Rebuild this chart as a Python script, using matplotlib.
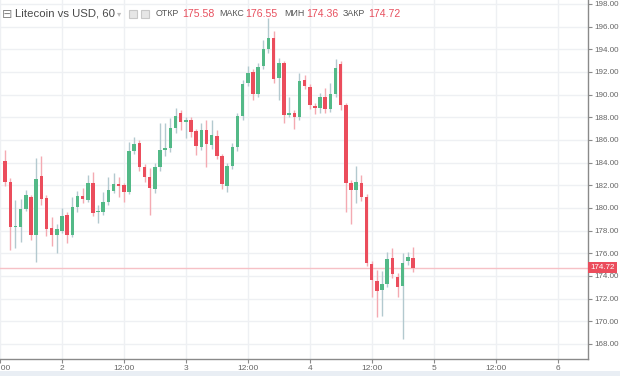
import numpy as np
import matplotlib
matplotlib.use("Agg")
import matplotlib.pyplot as plt
from matplotlib.patches import Rectangle
import matplotlib.transforms as mtransforms

# hourly candles, hour 0 = day "2" 00:00
hours = np.arange(-11, 69)

opens = [184.14, 182.29, 178.32, 178.32, 179.91, 180.97, 177.61, 182.82, 180.88, 178.23,
         177.61, 177.96, 179.38, 177.61, 180.08, 181.05, 180.70, 182.20, 179.64, 179.64,
         180.52, 181.50, 182.11, 182.02, 181.41, 185.03, 185.73, 183.61, 182.73, 181.67,
         183.61, 185.11, 185.29, 187.06, 188.38, 187.59, 187.76, 186.79, 185.38, 186.88,
         185.56, 186.35, 184.58, 181.94, 183.70, 185.38, 188.11, 191.03, 192.00, 190.06,
         192.53, 194.03, 195.00, 191.47, 192.79, 188.20, 188.38, 188.03, 191.29, 190.67,
         189.00, 188.82, 189.79, 188.73, 190.06, 192.70, 189.09, 182.20, 181.58, 182.20,
         180.97, 175.05, 173.55, 172.76, 173.29, 175.58, 173.90, 173.11, 175.32, 175.58]
closes = [182.29, 178.32, 178.41, 179.91, 181.14, 177.61, 182.55, 180.79, 178.14, 177.61,
          178.14, 179.29, 177.61, 180.08, 181.05, 180.79, 182.20, 179.55, 179.73, 180.52,
          181.58, 182.11, 181.94, 181.41, 185.03, 185.64, 183.61, 182.73, 181.76, 183.61,
          185.11, 185.29, 187.06, 188.11, 187.59, 187.76, 186.70, 185.47, 186.88, 185.64,
          186.44, 184.58, 182.11, 183.70, 185.38, 188.11, 190.94, 191.91, 190.06, 192.44,
          194.03, 195.00, 191.38, 192.79, 188.20, 188.38, 188.03, 191.20, 190.76, 189.09,
          188.82, 189.79, 188.73, 190.06, 192.35, 189.09, 182.20, 181.58, 182.29, 180.97,
          175.14, 173.64, 172.67, 173.29, 175.49, 174.17, 173.02, 175.14, 175.67, 174.72]
highs = [185.10, 182.60, 180.70, 180.80, 181.60, 181.10, 184.40, 184.60, 181.10, 179.20,
         178.60, 180.00, 179.60, 181.00, 181.50, 181.80, 182.90, 183.20, 180.30, 181.40,
         182.70, 183.10, 182.70, 182.20, 185.80, 186.30, 186.00, 183.90, 183.50, 184.00,
         187.50, 187.50, 187.90, 188.80, 188.60, 188.00, 188.00, 187.00, 187.50, 187.80,
         187.80, 186.90, 184.80, 184.00, 185.70, 188.40, 191.30, 192.50, 192.30, 192.80,
         194.80, 196.80, 195.60, 193.20, 193.00, 189.80, 188.60, 191.90, 191.70, 190.90,
         189.30, 190.10, 190.60, 191.00, 193.10, 193.00, 189.30, 182.50, 183.70, 182.90,
         181.20, 175.30, 174.50, 174.40, 176.10, 176.50, 174.30, 176.00, 176.10, 176.55]
lows = [181.90, 176.30, 176.50, 177.00, 179.70, 177.20, 175.20, 180.30, 177.50, 176.60,
        176.00, 177.80, 176.90, 177.40, 179.60, 180.40, 180.50, 179.30, 178.70, 179.40,
        180.30, 181.30, 181.00, 180.50, 181.20, 184.80, 183.30, 182.30, 179.40, 181.30,
        183.30, 184.60, 184.90, 186.60, 186.90, 186.20, 186.30, 184.70, 185.10, 183.60,
        185.20, 184.30, 181.70, 181.40, 183.40, 185.00, 187.80, 190.80, 189.50, 189.80,
        192.30, 193.70, 191.00, 189.50, 187.50, 188.00, 187.00, 187.80, 190.50, 188.70,
        188.30, 188.40, 188.40, 188.50, 189.80, 188.60, 179.60, 178.60, 180.40, 180.60,
        174.90, 172.10, 170.40, 170.50, 173.00, 173.80, 172.10, 168.40, 175.00, 174.36]

x_ticks = [-12, 0, 12, 24, 36, 48, 60, 72, 84, 96]
x_labels = ["12:00", "2", "12:00", "3", "12:00", "4", "12:00", "5", "12:00", "6"]
y_ticks = np.arange(168, 200, 2)

last_price = 174.72
legend_items = [("ОТКР", "175.58"), ("МАКС", "176.55"), ("МИН", "174.36"), ("ЗАКР", "174.72")]

up_col = "#53b987"
down_col = "#eb4d5c"
up_wick = "#b3c9cf"
down_wick = "#f4aab2"

plt.rcParams['font.family'] = ['Liberation Sans', 'DejaVu Sans']

W, H = 620, 376
fig = plt.figure(figsize=(W / 100, H / 100), dpi=100)
fig.patch.set_facecolor("white")
ax = fig.add_axes([0, 17 / H, 588 / W, 1 - 17 / H])

opens = np.array(opens)
closes = np.array(closes)
highs = np.array(highs)
lows = np.array(lows)
up = closes >= opens

# wicks
ax.vlines(hours[up], lows[up], highs[up], color=up_wick, linewidth=1, zorder=2)
ax.vlines(hours[~up], lows[~up], highs[~up], color=down_wick, linewidth=1, zorder=2)
# bodies
body_lo = np.minimum(opens, closes)
body_h = np.maximum(np.abs(closes - opens), 0.08)
ax.bar(hours[up], body_h[up], bottom=body_lo[up], width=0.68, color=up_col, linewidth=0, zorder=3)
ax.bar(hours[~up], body_h[~up], bottom=body_lo[~up], width=0.68, color=down_col, linewidth=0, zorder=3)

# last price line
ax.axhline(last_price, color="#f6c1c6", linewidth=1, zorder=1)

ax.set_xlim(-11.6, 101.9)
ax.set_ylim(166.67, 198.35)

ax.set_xticks(x_ticks)
ax.set_xticklabels(x_labels)
ax.set_yticks(y_ticks)
ax.set_yticklabels(["%.2f" % v for v in y_ticks])
ax.yaxis.tick_right()
ax.grid(True, color="#eef0f3", linewidth=1, zorder=0)
ax.set_axisbelow(True)

for s in ["top", "left"]:
    ax.spines[s].set_visible(False)
for s in ["right", "bottom"]:
    ax.spines[s].set_color("#8a8a8a")
    ax.spines[s].set_linewidth(1)
ax.tick_params(axis="y", colors="#8a8a8a", labelcolor="#666666", labelsize=5.8,
               length=3, width=0.8, pad=1.5)
ax.tick_params(axis="x", colors="#8a8a8a", labelcolor="#666666", labelsize=6,
               length=3, width=0.8, pad=1.5)

# last price tag on the axis
tr = mtransforms.blended_transform_factory(ax.transAxes, ax.transData)
ax.text(1.004, last_price, "%.2f" % last_price, transform=tr, ha="left", va="center",
        fontsize=5.8, color="white", zorder=10, clip_on=False,
        bbox=dict(boxstyle="square,pad=0.25", facecolor=down_col, edgecolor="none"))

# bottom band
fig.patches.append(Rectangle((0, 0), 1, 5 / H, transform=fig.transFigure,
                             facecolor="#e9eef4", edgecolor="none"))

# header legend
ty = 1 - 14 / H
fig.text(2 / W, ty, "⊟", fontsize=9, color="#888888", va="center", ha="left",
         family="DejaVu Sans")
fig.text(15 / W, ty, "Litecoin vs USD, 60", fontsize=8.2, color="#4a4a4a",
         va="center", ha="left")
fig.text(117 / W, ty, "▾", fontsize=6, color="#bbbbbb", va="center", ha="left",
         family="DejaVu Sans")
for px in [129, 141]:
    fig.patches.append(Rectangle((px / W, 1 - 18 / H), 8 / W, 8 / H, transform=fig.transFigure,
                                 facecolor="#e6e6e6", edgecolor="#c8c8c8", linewidth=0.8))
lab_x = [156, 219, 284, 343]
val_x = [182, 245, 306, 368]
for (lab, val), lx, vx in zip(legend_items, lab_x, val_x):
    fig.text(lx / W, ty, lab, fontsize=6.4, color="#555555", va="center", ha="left")
    fig.text(vx / W, ty, val, fontsize=7.6, color="#e8505f", va="center", ha="left")

fig.savefig("out.png", dpi=100)
